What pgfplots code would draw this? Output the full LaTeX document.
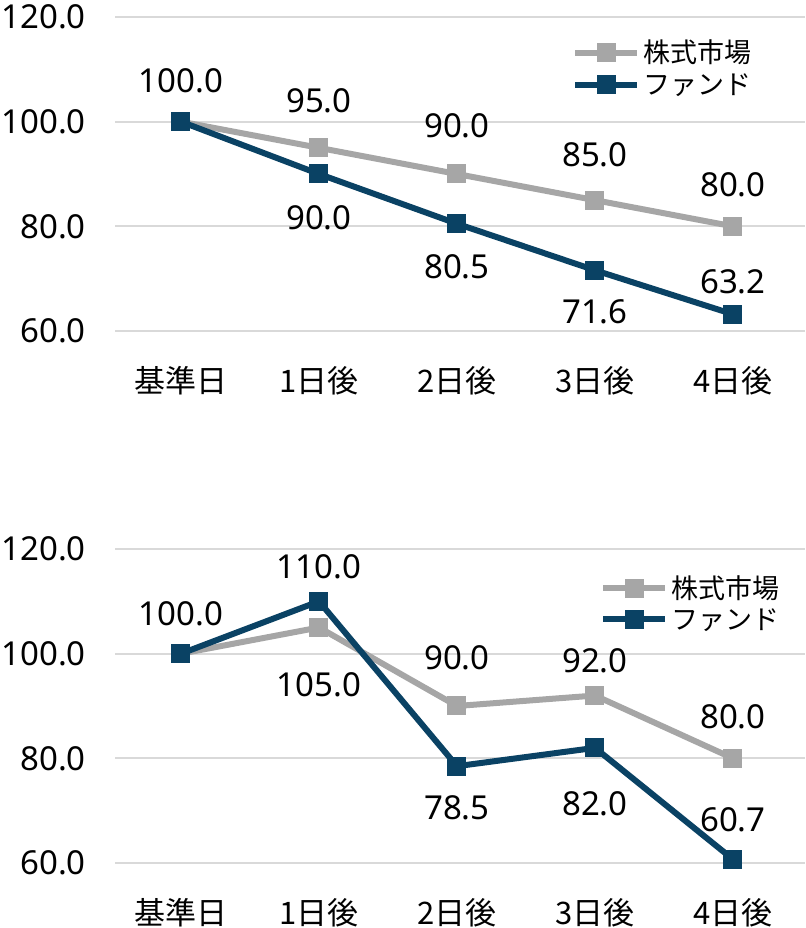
\documentclass[border=0pt]{standalone}
\usepackage{pgfplots}
\pgfplotsset{compat=1.18}
\usepackage{pgfplotstable}
\usepackage{fontspec}
\setmainfont{Noto Sans}
\newfontfamily\cjk{Noto Sans CJK JP}
\definecolor{mkt}{HTML}{A6A6A6}
\definecolor{fund}{HTML}{0A4264}
\definecolor{gridc}{HTML}{D9D9D9}

\pgfplotstableread{
x y dy
0 100 41
1 95 47
2 90 48
3 85 45
4 80 42
}\topmkt
\pgfplotstableread{
x y dy
0 100 0
1 90 -44
2 80.5 -43
3 71.6 -42
4 63.2 32
}\topfund
\pgfplotstableread{
x y dy
0 100 40
1 105 -57
2 90 48
3 92 35
4 80 42
}\botmkt
\pgfplotstableread{
x y dy
0 100 0
1 110 35
2 78.5 -42
3 82 -56
4 60.7 40
}\botfund

\pgfplotsset{
  mychart/.style={
    scale only axis, width=690pt, height=314pt,
    xmin=-0.478, xmax=4.522, ymin=60, ymax=120,
    ytick={60,80,100,120},
    xtick={0,1,2,3,4},
    xticklabels={基準日,1日後,2日後,3日後,4日後},
    axis line style={draw=none},
    major tick length=0pt,
    ymajorgrids, grid style={gridc, line width=2pt},
    /pgf/number format/assume math mode=true,
    yticklabel={\pgfmathprintnumber[fixed,fixed zerofill,precision=1]{\tick}},
    yticklabel style={font=\fontsize{33}{36}\selectfont, anchor=east, inner sep=0pt, xshift=-29pt},
    xticklabel style={font=\cjk\fontsize{31}{34}\selectfont, anchor=center, inner sep=0pt, yshift=-50pt},
    clip=false,
    legend cell align=left,
    legend image code/.code={\draw[mark repeat=2, mark phase=2, ##1] plot coordinates {(0pt,0pt) (31pt,0pt) (62pt,0pt)};},
    nodes near coords={\ifdim\dy pt=0pt\relax\else\pgfmathprintnumber[fixed,fixed zerofill,precision=1,assume math mode=true]{\pgfplotspointmeta}\fi},
    point meta=y,
    visualization depends on={\thisrow{dy} \as \dy},
    every node near coord/.append style={font=\fontsize{33}{36}\selectfont, anchor=center, inner sep=0pt, yshift=\dy pt, text=black},
  },
  mktline/.style={color=mkt, line width=6pt, mark=square*, mark size=9pt, mark options={solid, line width=1pt, rounded corners=2.5pt, fill=mkt}},
  fundline/.style={color=fund, line width=6pt, mark=square*, mark size=9pt, mark options={solid, line width=1pt, rounded corners=2.5pt, fill=fund}},
}

\begin{document}
\begin{tikzpicture}[x=1pt,y=1pt]
\useasboundingbox (0,0) rectangle (805,928);
\begin{axis}[mychart, at={(115pt,597pt)}, anchor=south west,
  legend style={at={(0.6623,1)}, anchor=north west, yshift=-19.5pt, draw=none, fill=none, inner sep=0pt, row sep=0pt, column sep=3pt,
    nodes={inner sep=0pt, text height=26pt, text depth=6pt, font=\cjk\fontsize{27}{30}\selectfont}}]
\addplot[mktline] table[x=x,y=y] {\topmkt};
\addlegendentry{株式市場}
\addplot[fundline] table[x=x,y=y] {\topfund};
\addlegendentry{ファンド}
\end{axis}
\begin{axis}[mychart, at={(115pt,65pt)}, anchor=south west,
  legend style={at={(0.7029,1)}, anchor=north west, yshift=-23.5pt, draw=none, fill=none, inner sep=0pt, row sep=0pt, column sep=3pt,
    nodes={inner sep=0pt, text height=25.5pt, text depth=5.5pt, font=\cjk\fontsize{27}{30}\selectfont}}]
\addplot[mktline] table[x=x,y=y] {\botmkt};
\addlegendentry{株式市場}
\addplot[fundline] table[x=x,y=y] {\botfund};
\addlegendentry{ファンド}
\end{axis}
\end{tikzpicture}
\end{document}
